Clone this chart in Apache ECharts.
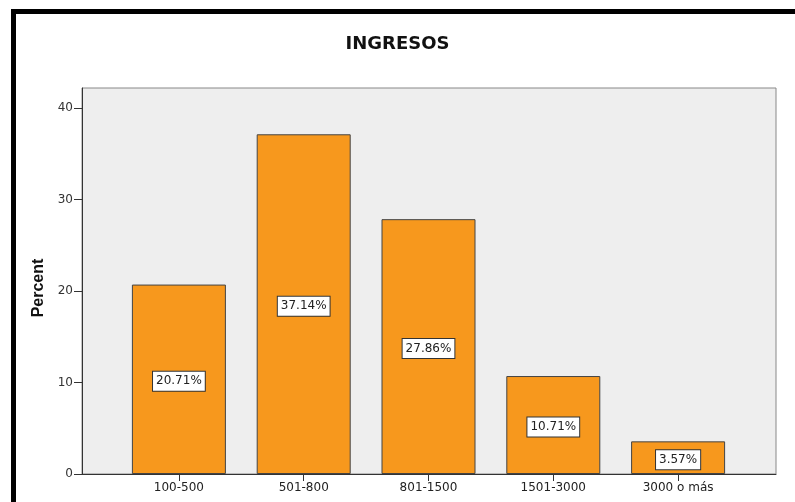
<!DOCTYPE html>
<html>
<head>
<meta charset="utf-8">
<script src="https://cdn.jsdelivr.net/npm/echarts@6/dist/echarts.min.js"></script>
<style>
html,body{margin:0;padding:0;background:#fff;}
#c{width:795px;height:502px;}
</style>
</head>
<body>
<div id="c"></div>
<script>
var titleText = 'INGRESOS';
var yAxisName = 'Percent';
var categories = ['100-500', '501-800', '801-1500', '1501-3000', '3000 o más'];
var percents = [20.71, 37.14, 27.86, 10.71, 3.57];
var yMin = 0, yMax = 42.2, yInterval = 10;

var chart = echarts.init(document.getElementById('c'), null, {renderer: 'canvas'});
var font = 'DejaVu Sans';
chart.setOption({
  animation: false,
  backgroundColor: '#ffffff',
  title: {
    text: titleText, left: 'center', top: 30,
    textStyle: {fontFamily: font, fontWeight: 'bold', fontSize: 18, color: '#111'}
  },
  graphic: [
    {type: 'rect', shape: {x: 11, y: 9, width: 784, height: 5}, style: {fill: '#000'}},
    {type: 'rect', shape: {x: 11, y: 9, width: 5, height: 493}, style: {fill: '#000'}}
  ],
  grid: [
    {left: 82, right: 19, top: 88, bottom: 28, show: true, backgroundColor: '#eeeeee', borderColor: '#888', borderWidth: 1},
    {left: 116.5, right: 54.5, top: 88, bottom: 28}
  ],
  xAxis: [
    {gridIndex: 0, type: 'value', min: 0, max: 1, axisLine: {show: true, lineStyle: {color: '#333'}}, axisTick: {show: false}, axisLabel: {show: false}, splitLine: {show: false}},
    {gridIndex: 1, type: 'category', data: categories, axisLine: {show: false},
     axisTick: {show: true, alignWithLabel: true, length: 7, lineStyle: {color: '#333'}},
     axisLabel: {margin: 8, fontFamily: font, fontSize: 12, color: '#222'}}
  ],
  yAxis: [
    {gridIndex: 0, type: 'value', min: yMin, max: yMax, interval: yInterval,
     name: yAxisName, nameLocation: 'middle', nameGap: 33, nameRotate: 90,
     nameTextStyle: {fontFamily: 'Liberation Sans', fontWeight: 'bold', fontSize: 16, color: '#111', padding: [0, 14, 0, 0]},
     axisLine: {show: true, lineStyle: {color: '#333'}},
     axisTick: {show: true, inside: false, length: 8, lineStyle: {color: '#333'}},
     axisLabel: {margin: 9, fontFamily: font, fontSize: 12, color: '#333', showMaxLabel: false},
     splitLine: {show: false}},
    {gridIndex: 1, type: 'value', min: yMin, max: yMax, show: false, splitLine: {show: false}}
  ],
  series: [{
    type: 'bar', xAxisIndex: 1, yAxisIndex: 1,
    data: percents, barWidth: 94,
    itemStyle: {color: '#F7981D', borderColor: '#444', borderWidth: 1},
    label: {
      show: true, position: 'inside', offset: [0, 2],
      formatter: function(p){ return p.value.toFixed(2) + '%'; },
      fontFamily: font, fontSize: 12, color: '#222',
      backgroundColor: '#fff', borderColor: '#333', borderWidth: 1, padding: [4, 3, 3, 3]
    }
  }]
});
</script>
</body>
</html>
